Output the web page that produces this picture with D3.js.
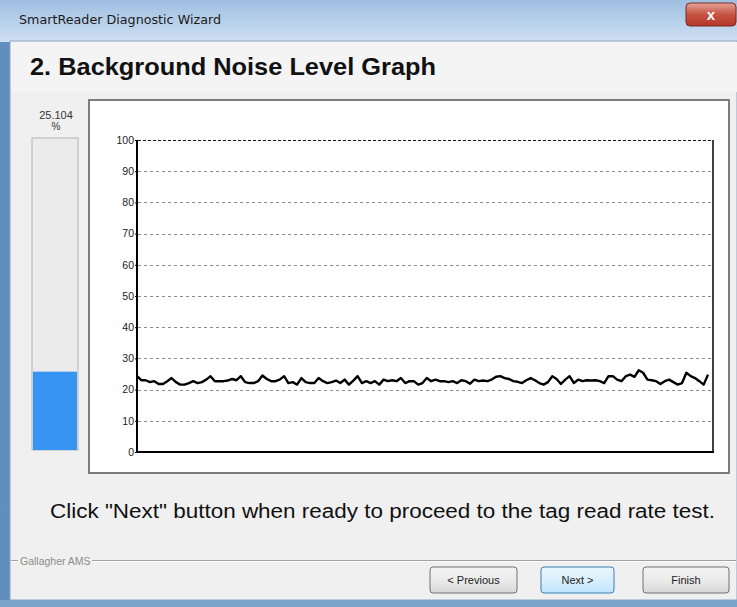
<!DOCTYPE html>
<html lang="en">
<head>
  <meta charset="UTF-8">
  <title>Background Noise Level Graph</title>
  <script src="https://d3js.org/d3.v7.min.js"></script>
  <style>
    body { margin: 0; background: #f0f0f0; }
    svg { display: block; font-family: "Liberation Sans", Arial, sans-serif; }
    .grid { stroke: #8c8c8c; stroke-width: 1; stroke-dasharray: 3 3; }
    .grid-top { stroke: #111; stroke-width: 1.2; stroke-dasharray: 3 2; }
    .noise { fill: none; stroke: #000; stroke-width: 2.4; stroke-linejoin: round; }
    .btn-text { font-size: 11px; fill: #222; text-anchor: middle; }
  </style>
</head>
<body>
  <svg width="737" height="607">
    <defs>
      <linearGradient id="titleGrad" x1="0" y1="0" x2="0" y2="1">
        <stop offset="0" stop-color="#9fbfe2"/>
        <stop offset="1" stop-color="#cfe0f2"/>
      </linearGradient>
      <linearGradient id="closeGrad" x1="0" y1="0" x2="0" y2="1">
        <stop offset="0" stop-color="#e3a398"/>
        <stop offset="0.5" stop-color="#c75443"/>
        <stop offset="1" stop-color="#b4372a"/>
      </linearGradient>
      <linearGradient id="btnGrad" x1="0" y1="0" x2="0" y2="1">
        <stop offset="0" stop-color="#f4f4f4"/>
        <stop offset="0.5" stop-color="#ebebeb"/>
        <stop offset="1" stop-color="#d8d8d8"/>
      </linearGradient>
      <linearGradient id="btnGradBlue" x1="0" y1="0" x2="0" y2="1">
        <stop offset="0" stop-color="#eaf6fd"/>
        <stop offset="0.5" stop-color="#d9f0fc"/>
        <stop offset="1" stop-color="#bee6fd"/>
      </linearGradient>
      <linearGradient id="frameGrad" x1="0" y1="0" x2="1" y2="0">
        <stop offset="0" stop-color="#5f8dbd"/>
        <stop offset="1" stop-color="#b5cfe8"/>
      </linearGradient>
    </defs>
  </svg>

  <script>
    // values
    let levelPercent = 25.104;
    let yTicks = [0, 10, 20, 30, 40, 50, 60, 70, 80, 90, 100];
    let noise = [
      24.3, 23.0, 23.0, 22.4, 22.7, 21.8, 21.8, 22.7, 23.7, 22.4, 21.6, 21.6, 22.1, 22.7, 22.1,
      22.4, 23.2, 24.3, 22.7, 22.7, 22.7, 22.9, 23.4, 23.0, 24.3, 22.4, 22.1, 22.1, 22.7, 24.5,
      23.4, 22.7, 22.7, 23.2, 24.3, 22.1, 22.4, 21.6, 23.7, 22.4, 22.1, 22.1, 23.7,
      22.7, 22.1, 22.4, 22.9, 22.1, 23.2, 21.6, 22.9, 24.3, 22.1, 22.7, 22.1, 22.7, 21.6, 23.2,
      22.7, 23.0, 22.7, 23.7, 22.1, 22.7, 22.7, 21.6, 22.1, 23.7, 22.7, 23.2, 22.7, 22.7, 22.4,
      22.7, 22.1, 23.0, 22.7, 21.9, 23.2, 22.7, 22.9, 22.7, 23.2, 24.1, 24.3, 23.7, 23.4, 22.7,
      22.5, 22.1, 23.0, 23.7, 23.0, 22.1, 21.6, 22.4, 24.3, 23.4, 21.8, 23.2, 24.3, 22.1, 23.2,
      22.7, 23.0, 22.9, 23.0, 22.7, 22.1, 24.3, 24.3, 23.2, 22.7, 24.3, 24.8, 24.1, 26.2, 25.4,
      23.2, 23.0, 22.7, 21.8, 22.7, 23.2, 22.4, 21.6, 22.1, 25.4, 24.3, 23.7, 22.7, 21.6, 24.8
    ];
    let buttons = ["< Previous", "Next >", "Finish"];

    let svg = d3.select("svg");

    // window chrome
    svg.append("rect").attr("x", 0).attr("y", 0).attr("width", 737).attr("height", 607)
      .attr("fill", "url(#frameGrad)");
    svg.append("rect").attr("x", 0).attr("y", 0).attr("width", 737).attr("height", 42)
      .attr("fill", "url(#titleGrad)");
    svg.append("text").attr("x", 19).attr("y", 24)
      .attr("font-family", "'DejaVu Sans', sans-serif").attr("font-size", 11.5)
      .attr("textLength", 202).attr("lengthAdjust", "spacingAndGlyphs")
      .attr("fill", "#1b1b1b").text("SmartReader Diagnostic Wizard");

    svg.append("rect").attr("x", 686).attr("y", 3).attr("width", 50).attr("height", 23).attr("rx", 4)
      .attr("fill", "url(#closeGrad)").attr("stroke", "#7a2a22");
    svg.append("text").attr("x", 711).attr("y", 20).attr("text-anchor", "middle")
      .attr("font-size", 15).attr("font-weight", "bold").attr("fill", "#fff").text("x");

    // client area
    svg.append("rect").attr("x", 10).attr("y", 41).attr("width", 727).attr("height", 559)
      .attr("fill", "#f0f0f0").attr("stroke", "#8aa6c4");
    svg.append("rect").attr("x", 11).attr("y", 42).attr("width", 726).attr("height", 50)
      .attr("fill", "#f4f4f4");

    svg.append("text").attr("x", 30).attr("y", 75)
      .attr("font-size", 24).attr("font-weight", "bold").attr("fill", "#111")
      .attr("textLength", 406).attr("lengthAdjust", "spacingAndGlyphs")
      .text("2. Background Noise Level Graph");

    // level bar on the left
    let barY = d3.scaleLinear().domain([0, 100]).range([450, 138]);
    svg.append("rect").attr("x", 32).attr("y", barY(100)).attr("width", 46).attr("height", barY(0) - barY(100))
      .attr("fill", "#ebebeb").attr("stroke", "#b4b4b4");
    svg.append("rect").attr("x", 33).attr("y", barY(levelPercent)).attr("width", 44)
      .attr("height", barY(0) - barY(levelPercent)).attr("fill", "#3794f3");
    svg.append("text").attr("x", 56).attr("y", 119).attr("text-anchor", "middle")
      .attr("font-size", 11).attr("fill", "#333").text(levelPercent.toFixed(3));
    svg.append("text").attr("x", 56).attr("y", 130).attr("text-anchor", "middle")
      .attr("font-size", 10).attr("fill", "#333").text("%");

    // chart panel
    svg.append("rect").attr("x", 89).attr("y", 100).attr("width", 640).attr("height", 373)
      .attr("fill", "#fff").attr("stroke", "#7d7d7d").attr("stroke-width", 2);

    let x = d3.scaleLinear().domain([0, noise.length - 1]).range([137, 708]);
    let y = d3.scaleLinear().domain([0, 100]).range([452, 140]);
    let plotRight = 713;

    // dashed grid
    svg.append("g").selectAll("line").data(yTicks.filter(d => d > 0)).join("line")
      .attr("class", d => d === 100 ? "grid-top" : "grid")
      .attr("x1", 138).attr("x2", plotRight)
      .attr("y1", d => Math.round(y(d)) + 0.5).attr("y2", d => Math.round(y(d)) + 0.5);

    // axes frame
    svg.append("line").attr("x1", 137).attr("x2", 137).attr("y1", y(100)).attr("y2", y(0) + 1)
      .attr("stroke", "#000").attr("stroke-width", 2);
    svg.append("line").attr("x1", 136).attr("x2", plotRight + 1).attr("y1", y(0)).attr("y2", y(0))
      .attr("stroke", "#000").attr("stroke-width", 2);
    svg.append("line").attr("x1", plotRight).attr("x2", plotRight).attr("y1", y(100)).attr("y2", y(0))
      .attr("stroke", "#000").attr("stroke-width", 1.5);

    let yAxis = svg.append("g").attr("transform", "translate(137,0)")
      .call(d3.axisLeft(y).tickValues(yTicks).tickSize(2).tickPadding(1));
    yAxis.select(".domain").remove();
    yAxis.selectAll("text").attr("font-size", 10.5).attr("fill", "#222")
      .attr("font-family", "'Liberation Sans', Arial, sans-serif");
    yAxis.selectAll(".tick line").attr("stroke", "#000");

    // noise trace
    let line = d3.line().x((d, i) => x(i)).y(d => y(d));
    svg.append("path").datum(noise).attr("class", "noise").attr("d", line);

    // instruction text
    svg.append("text").attr("x", 50).attr("y", 518)
      .attr("font-size", 20).attr("fill", "#111")
      .attr("textLength", 665).attr("lengthAdjust", "spacingAndGlyphs")
      .text('Click "Next" button when ready to proceed to the tag read rate test.');

    // footer separator with label
    svg.append("line").attr("x1", 11).attr("x2", 736).attr("y1", 560.5).attr("y2", 560.5)
      .attr("stroke", "#a0a0a0");
    svg.append("line").attr("x1", 11).attr("x2", 736).attr("y1", 561.5).attr("y2", 561.5)
      .attr("stroke", "#fff");
    svg.append("rect").attr("x", 18).attr("y", 553).attr("width", 74).attr("height", 14).attr("fill", "#f0f0f0");
    svg.append("text").attr("x", 20).attr("y", 565).attr("font-size", 10.5).attr("fill", "#8c8c8c")
      .text("Gallagher AMS");

    // buttons
    let btnX = d3.scaleOrdinal().domain(buttons).range([430, 541, 643]);
    let btnW = d3.scaleOrdinal().domain(buttons).range([87, 73, 86]);
    let btn = svg.append("g").selectAll("g").data(buttons).join("g")
      .attr("transform", d => `translate(${btnX(d)},567)`);
    btn.append("rect").attr("width", d => btnW(d)).attr("height", 26).attr("rx", 3)
      .attr("fill", d => d === "Next >" ? "url(#btnGradBlue)" : "url(#btnGrad)")
      .attr("stroke", d => d === "Next >" ? "#3c7fb1" : "#707070");
    btn.append("text").attr("class", "btn-text").attr("x", d => btnW(d) / 2).attr("y", 17)
      .text(d => d);

    // bottom frame
    svg.append("rect").attr("x", 0).attr("y", 600).attr("width", 737).attr("height", 7).attr("fill", "#7aa3cc");
  </script>
</body>
</html>
